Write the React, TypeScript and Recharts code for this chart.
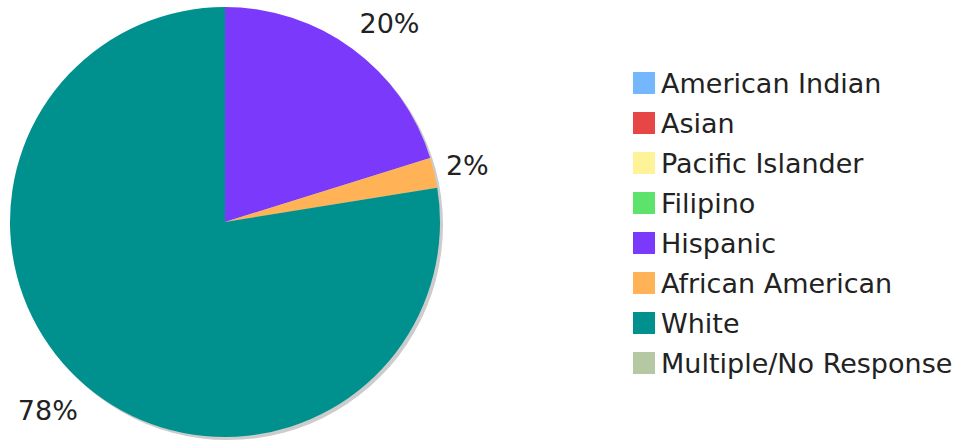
import React from 'react';
import { PieChart, Pie, Cell, Legend } from 'recharts';

const groups = [
  'American Indian',
  'Asian',
  'Pacific Islander',
  'Filipino',
  'Hispanic',
  'African American',
  'White',
  'Multiple/No Response',
];
const counts = [0, 0, 0, 0, 89, 10, 342, 0];
const colors = ['#74b7fc', '#e74646', '#fff39a', '#5de36b', '#7b39fc', '#ffb256', '#00918e', '#b4c8a4'];

const data = groups.map((name, i) => ({ name, value: counts[i] }));
const shadow = [{ name: 'shadow', value: 1 }];

const RADIAN = Math.PI / 180;

const renderLabel = (props: any) => {
  const { cx, cy, midAngle, outerRadius, percent } = props;
  if (!percent) return null;
  const r = outerRadius + 12;
  const cos = Math.cos(-midAngle * RADIAN);
  const sin = Math.sin(-midAngle * RADIAN);
  const x = cx + r * cos;
  const y = cy + r * sin + sin * 20;
  return (
    <text
      x={x}
      y={y}
      fill="#222"
      fontSize={27}
      fontFamily="DejaVu Sans, Verdana, sans-serif"
      textAnchor={cos >= 0 ? 'start' : 'end'}
      dominantBaseline="central"
    >
      {`${Math.round(percent * 100)}%`}
    </text>
  );
};

const LegendList = () => (
  <div style={{ fontFamily: 'DejaVu Sans, Verdana, sans-serif', fontSize: 27, color: '#222' }}>
    {groups.map((g, i) => (
      <div key={g} style={{ display: 'flex', alignItems: 'center', height: 40 }}>
        <span style={{ width: 22, height: 22, background: colors[i], marginRight: 6, flexShrink: 0 }} />
        <span style={{ whiteSpace: 'nowrap' }}>{g}</span>
      </div>
    ))}
  </div>
);

export default function App() {
  return (
    <div style={{ width: 959, height: 442, background: '#fff' }}>
      <style>{`body{margin:0}`}</style>
      <PieChart width={959} height={442}>
        <Pie
          data={shadow}
          dataKey="value"
          cx={223}
          cy={220}
          outerRadius={215}
          fill="#cccccc"
          stroke="none"
          legendType="none"
          isAnimationActive={false}
        />
        <Pie
          data={data}
          dataKey="value"
          cx={220}
          cy={217}
          outerRadius={215}
          startAngle={90}
          endAngle={-270}
          stroke="none"
          label={renderLabel}
          labelLine={false}
          isAnimationActive={false}
        >
          {data.map((d, i) => (
            <Cell key={d.name} fill={colors[i]} />
          ))}
        </Pie>
        <Legend
          content={() => <LegendList />}
          wrapperStyle={{ left: 633, top: 63, width: 326 }}
        />
      </PieChart>
    </div>
  );
}
